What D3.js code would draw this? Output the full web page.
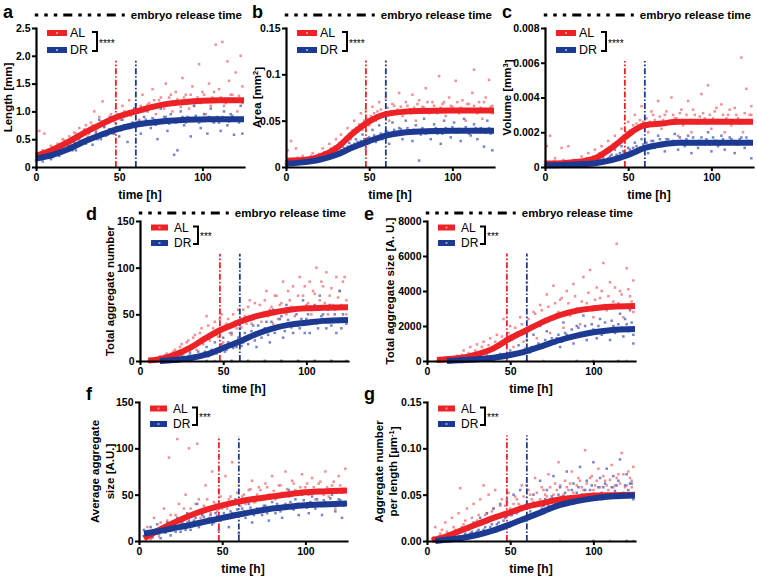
<!DOCTYPE html>
<html><head><meta charset="utf-8">
<script src="https://cdn.jsdelivr.net/npm/d3@7"></script>
<style>
body{margin:0;background:#fff}
svg{display:block}
text{font-family:Arial,"Liberation Sans",Helvetica,sans-serif}
</style>
</head><body>
<svg id="chart" width="757" height="576"></svg>
<script>
// ---------------- DATA ----------------
const timeDomain = [0, 125];
const xTicks = [0, 50, 100];
const groups = ["AL", "DR"];
const releaseTimes = [48, 60];            // AL, DR embryo release time [h]
const releaseLegend = "embryo release time";

// a: Length [mm]
const lengthTicks = [0, 0.5, 1, 1.5, 2, 2.5];
const lengthTickLabels = ["0", "0.5", "1.0", "1.5", "2.0", "2.5"];
const lengthFitAL = [[0,0.2],[10,0.31],[20,0.46],[30,0.63],[40,0.78],[48,0.89],[55,0.96],[60,1.0],[70,1.08],[80,1.14],[90,1.17],[100,1.19],[110,1.2],[125,1.2]];
const lengthFitDR = [[0,0.15],[10,0.22],[20,0.33],[30,0.47],[40,0.59],[50,0.69],[60,0.76],[70,0.8],[80,0.83],[90,0.85],[100,0.855],[110,0.86],[125,0.86]];
const lengthAL = [[1,0.22],[2,0.65],[3,0.18],[5,0.6],[6,0.28],[8,0.3],[10,0.35],[11,0.25],[13,0.42],[15,0.38],[16,0.5],[18,0.45],[20,0.55],[21,0.4],[23,0.62],[25,0.5],[26,0.7],[28,0.58],[30,0.75],[31,0.55],[33,0.8],[35,1.0],[36,0.65],[38,0.9],[40,1.18],[41,0.72],[43,0.85],[45,0.95],[46,0.6],[48,1.05],[50,0.9],[52,1.1],[54,0.75],[56,1.2],[58,1.0],[60,1.12],[62,0.85],[64,1.3],[66,1.05],[68,1.15],[70,1.4],[72,0.95],[74,1.2],[76,1.1],[78,1.5],[80,1.25],[82,1.0],[84,1.35],[86,1.15],[88,1.6],[90,1.3],[92,1.05],[94,1.45],[96,1.2],[98,1.85],[100,1.35],[102,0.95],[104,1.5],[106,1.25],[108,2.2],[110,1.4],[112,2.25],[113,1.1],[115,1.9],[116,1.55],[118,1.3],[120,1.7],[121,1.0],[123,2.0],[124,1.45],
  [0.5,0.25],[2.5,0.2],[4,0.3],[7,0.22],[9,0.38],[12,0.33],[14,0.3],[17,0.48],[19,0.38],[22,0.5],[24,0.6],[27,0.55],[29,0.68],[32,0.6],[34,0.75],[37,0.7],[39,0.82],[42,0.78],[44,0.9],[47,0.82],[49,0.95],[51,0.85],[53,1.0],[57,0.92],[59,1.05],[61,0.98],[63,1.1],[65,1.0],[67,1.12],[69,1.05],[71,1.2],[73,1.1],[75,1.25],[77,1.05],[79,1.15],[81,1.3],[83,1.12],[85,1.22],[87,1.08],[89,1.25],[91,1.15],[93,1.3],[95,1.1],[97,1.25],[99,1.15],[101,1.3],[103,1.2],[105,1.1],[107,1.35],[109,1.2],[111,1.25],[114,1.15],[117,1.3],[119,1.2],[122,1.28],[124,1.15]];
const lengthDR = [[0,0.12],[1,0.15],[3,0.2],[4,0.1],[6,0.18],[8,0.25],[9,0.14],[11,0.22],[13,0.3],[14,0.2],[16,0.35],[18,0.28],[19,0.4],[21,0.32],[23,0.45],[24,0.3],[26,0.5],[28,0.42],[29,0.6],[31,0.48],[33,0.7],[34,0.4],[36,0.62],[38,0.85],[39,0.5],[41,0.72],[43,0.58],[45,0.9],[46,0.65],[48,0.78],[50,0.55],[52,0.85],[54,0.95],[55,0.45],[57,0.72],[59,1.05],[61,0.8],[63,0.6],[65,0.9],[67,1.0],[69,0.7],[71,0.85],[73,0.5],[75,1.05],[77,0.9],[79,0.65],[81,0.95],[83,0.22],[84,0.8],[85,0.3],[87,1.0],[89,0.75],[91,0.9],[93,0.55],[95,1.1],[97,0.85],[99,0.7],[101,0.95],[103,0.6],[105,1.05],[107,0.8],[109,0.9],[111,0.65],[113,1.0],[115,0.75],[117,0.95],[119,0.58],[121,0.85],[123,1.1],[124,0.6],
  [0.5,0.17],[2,0.13],[5,0.16],[7,0.2],[10,0.18],[12,0.26],[15,0.25],[17,0.3],[20,0.36],[22,0.3],[25,0.4],[27,0.45],[30,0.42],[32,0.52],[35,0.55],[37,0.5],[40,0.62],[42,0.56],[44,0.68],[47,0.6],[49,0.72],[51,0.66],[53,0.75],[56,0.7],[58,0.8],[60,0.72],[62,0.82],[64,0.75],[66,0.85],[68,0.78],[70,0.88],[72,0.76],[74,0.84],[76,0.8],[78,0.9],[80,0.78],[82,0.86],[86,0.82],[88,0.9],[90,0.8],[92,0.88],[94,0.84],[96,0.92],[98,0.8],[100,0.88],[102,0.84],[104,0.9],[106,0.82],[108,0.88],[110,0.8],[112,0.9],[114,0.86],[116,0.82],[118,0.92],[120,0.85],[122,0.8]];

// b: Area [mm^2]
const areaTicks = [0, 0.05, 0.1, 0.15];
const areaTickLabels = ["0", "0.05", "0.1", "0.15"];
const areaFitAL = [[0,0.0068],[10,0.0075],[20,0.011],[30,0.02],[40,0.036],[48,0.047],[55,0.054],[60,0.057],[70,0.0595],[80,0.0605],[100,0.061],[125,0.061]];
const areaFitDR = [[0,0.0035],[10,0.005],[20,0.0078],[30,0.013],[40,0.021],[50,0.028],[60,0.0338],[70,0.037],[80,0.0383],[100,0.039],[125,0.039]];
const areaAL = [[0,0.006],[1,0.018],[3,0.028],[4,0.005],[6,0.02],[8,0.008],[10,0.012],[12,0.006],[14,0.01],[16,0.015],[18,0.009],[20,0.014],[22,0.02],[24,0.012],[26,0.025],[28,0.018],[30,0.03],[31,0.015],[33,0.035],[35,0.025],[37,0.042],[39,0.03],[41,0.05],[43,0.038],[45,0.058],[46,0.04],[48,0.062],[50,0.045],[52,0.065],[54,0.05],[56,0.07],[58,0.055],[60,0.075],[62,0.05],[64,0.068],[66,0.06],[68,0.08],[70,0.055],[72,0.07],[74,0.062],[76,0.078],[78,0.05],[80,0.072],[82,0.065],[84,0.085],[86,0.058],[88,0.07],[90,0.062],[92,0.098],[94,0.068],[96,0.055],[98,0.075],[100,0.065],[102,0.093],[104,0.058],[106,0.072],[108,0.05],[110,0.068],[112,0.08],[113,0.105],[114,0.06],[116,0.07],[118,0.052],[120,0.075],[122,0.094],[123,0.065],[124,0.058],
  [2,0.008],[5,0.006],[7,0.01],[9,0.005],[11,0.009],[13,0.007],[15,0.012],[17,0.01],[19,0.013],[21,0.011],[23,0.016],[25,0.014],[27,0.02],[29,0.022],[32,0.026],[34,0.028],[36,0.032],[38,0.036],[40,0.04],[42,0.042],[44,0.046],[47,0.05],[49,0.052],[51,0.055],[53,0.058],[55,0.06],[57,0.062],[59,0.058],[61,0.064],[63,0.06],[65,0.066],[67,0.062],[69,0.065],[71,0.06],[73,0.066],[75,0.058],[77,0.064],[79,0.068],[81,0.06],[83,0.064],[85,0.07],[87,0.062],[89,0.066],[91,0.058],[93,0.064],[95,0.07],[97,0.06],[99,0.066],[101,0.062],[103,0.07],[105,0.064],[107,0.06],[109,0.068],[111,0.062],[113,0.066],[115,0.058],[117,0.064],[119,0.07],[121,0.06],[124,0.066]];
const areaDR = [[0,0.003],[2,0.005],[4,0.002],[6,0.006],[8,0.004],[10,0.007],[12,0.005],[14,0.008],[16,0.006],[18,0.01],[20,0.008],[22,0.012],[24,0.01],[26,0.015],[28,0.012],[30,0.018],[32,0.014],[34,0.022],[36,0.017],[38,0.026],[40,0.02],[42,0.03],[44,0.024],[46,0.035],[48,0.02],[50,0.032],[52,0.04],[54,0.027],[56,0.045],[58,0.03],[60,0.038],[62,0.025],[64,0.048],[66,0.035],[68,0.042],[70,0.03],[72,0.05],[74,0.038],[76,0.028],[78,0.045],[80,0.007],[81,0.035],[83,0.052],[85,0.04],[87,0.03],[89,0.046],[91,0.036],[93,0.025],[95,0.05],[97,0.04],[99,0.032],[101,0.048],[103,0.038],[105,0.028],[107,0.052],[109,0.04],[111,0.034],[113,0.046],[115,0.03],[117,0.042],[119,0.022],[121,0.05],[123,0.036],[124,0.018],
  [1,0.004],[3,0.006],[5,0.003],[7,0.005],[9,0.006],[11,0.004],[13,0.007],[15,0.006],[17,0.009],[19,0.007],[21,0.01],[23,0.009],[25,0.012],[27,0.013],[29,0.015],[31,0.016],[33,0.018],[35,0.02],[37,0.022],[39,0.023],[41,0.025],[43,0.027],[45,0.028],[47,0.03],[49,0.031],[51,0.03],[53,0.034],[55,0.032],[57,0.036],[59,0.034],[61,0.038],[63,0.036],[65,0.04],[67,0.037],[69,0.041],[71,0.038],[73,0.042],[75,0.036],[77,0.04],[79,0.038],[82,0.042],[84,0.036],[86,0.04],[88,0.038],[90,0.042],[92,0.04],[94,0.036],[96,0.042],[98,0.039],[100,0.043],[102,0.037],[104,0.041],[106,0.039],[108,0.043],[110,0.036],[112,0.04],[114,0.042],[116,0.038],[118,0.041],[120,0.037],[122,0.042],[124,0.039]];

// c: Volume [mm^3]
const volumeTicks = [0, 0.002, 0.004, 0.006, 0.008];
const volumeTickLabels = ["0", "0.002", "0.004", "0.006", "0.008"];
const volumeFitAL = [[0,0.0002],[10,0.00022],[20,0.0003],[30,0.0005],[40,0.0011],[48,0.0017],[55,0.0022],[60,0.0024],[70,0.0025],[80,0.0026],[100,0.0026],[125,0.0026]];
const volumeFitDR = [[0,0.0001],[10,0.00012],[20,0.00016],[30,0.00022],[40,0.0004],[50,0.0007],[60,0.0011],[70,0.0013],[80,0.0014],[100,0.0014],[125,0.0014]];
const volumeAL = [[0,0.0003],[1,0.0012],[3,0.0018],[4,0.0002],[6,0.0005],[8,0.0001],[10,0.0011],[12,0.0003],[14,0.0012],[16,0.0002],[18,0.0004],[20,0.0003],[22,0.0006],[24,0.0004],[26,0.0008],[28,0.0005],[30,0.001],[32,0.0007],[34,0.0012],[36,0.0009],[38,0.0015],[40,0.0011],[42,0.0018],[44,0.0013],[46,0.0022],[48,0.0016],[50,0.0026],[52,0.002],[54,0.003],[56,0.0022],[58,0.0035],[60,0.0025],[62,0.002],[64,0.0032],[66,0.0027],[68,0.0038],[70,0.0022],[72,0.003],[74,0.0025],[76,0.004],[78,0.0028],[80,0.0018],[82,0.0033],[84,0.0026],[86,0.0038],[88,0.002],[90,0.003],[92,0.0025],[94,0.0042],[96,0.0028],[98,0.0047],[100,0.0022],[102,0.0032],[104,0.0027],[106,0.0036],[108,0.002],[110,0.003],[112,0.0024],[114,0.0034],[116,0.0028],[118,0.0063],[119,0.002],[121,0.0045],[123,0.003],[124,0.0035],
  [2,0.0002],[5,0.0003],[7,0.0001],[9,0.0002],[11,0.0004],[13,0.0002],[15,0.0003],[17,0.0004],[19,0.0002],[21,0.0004],[23,0.0003],[25,0.0005],[27,0.0004],[29,0.0006],[31,0.0005],[33,0.0008],[35,0.0007],[37,0.001],[39,0.0009],[41,0.0013],[43,0.0014],[45,0.0016],[47,0.0018],[49,0.002],[51,0.0021],[53,0.0024],[55,0.0025],[57,0.0027],[59,0.0026],[61,0.0028],[63,0.0026],[65,0.003],[67,0.0025],[69,0.0029],[71,0.0027],[73,0.0032],[75,0.0026],[77,0.003],[79,0.0028],[81,0.0031],[83,0.0024],[85,0.003],[87,0.0027],[89,0.0033],[91,0.0026],[93,0.0029],[95,0.0031],[97,0.0025],[99,0.003],[101,0.0028],[103,0.0034],[105,0.0026],[107,0.003],[109,0.0028],[111,0.0033],[113,0.0027],[115,0.003],[117,0.0025],[120,0.0031],[122,0.0027],[124,0.003]];
const volumeDR = [[0,0.0001],[2,0.0002],[4,0.0001],[6,0.0003],[8,0.0001],[10,0.0002],[12,0.0001],[14,0.0003],[16,0.0002],[18,0.0001],[20,0.0003],[22,0.0002],[24,0.0004],[26,0.0002],[28,0.0005],[30,0.0003],[32,0.0006],[34,0.0004],[36,0.0008],[38,0.0005],[40,0.0007],[42,0.001],[44,0.0006],[46,0.0012],[48,0.0008],[50,0.0011],[52,0.0007],[54,0.0014],[56,0.001],[58,0.0016],[60,0.0012],[62,0.0008],[64,0.0015],[66,0.0011],[68,0.0018],[70,0.0012],[72,0.0009],[74,0.0016],[76,0.0013],[78,0.0019],[80,0.001],[82,0.0015],[84,0.0012],[86,0.0018],[88,0.0008],[90,0.0014],[92,0.0011],[94,0.0017],[96,0.0013],[98,0.002],[100,0.0009],[102,0.0015],[104,0.0012],[106,0.0018],[108,0.001],[110,0.0014],[112,0.0016],[114,0.0008],[116,0.0013],[118,0.0017],[120,0.0011],[122,0.0015],[124,0.0005],
  [1,0.0002],[3,0.0001],[5,0.0002],[7,0.0001],[9,0.0002],[11,0.0003],[13,0.0002],[15,0.0001],[17,0.0002],[19,0.0003],[21,0.0002],[23,0.0001],[25,0.0003],[27,0.0002],[29,0.0004],[31,0.0003],[33,0.0004],[35,0.0005],[37,0.0004],[39,0.0006],[41,0.0005],[43,0.0007],[45,0.0008],[47,0.0009],[49,0.0008],[51,0.001],[53,0.0011],[55,0.0012],[57,0.0011],[59,0.0013],[61,0.0014],[63,0.0012],[65,0.0015],[67,0.0013],[69,0.0016],[71,0.0014],[73,0.0016],[75,0.0013],[77,0.0015],[79,0.0014],[81,0.0017],[83,0.0013],[85,0.0016],[87,0.0014],[89,0.0017],[91,0.0013],[93,0.0015],[95,0.0014],[97,0.0016],[99,0.0013],[101,0.0017],[103,0.0015],[105,0.0013],[107,0.0016],[109,0.0014],[111,0.0017],[113,0.0015],[115,0.0013],[117,0.0016],[119,0.0014],[121,0.0017],[123,0.0014]];

// d: Total aggregate number
const numberTicks = [0, 50, 100, 150];
const numberTickLabels = ["0", "50", "100", "150"];
const numberFitAL = [[5,0.5],[10,1.5],[20,6],[30,14],[40,25],[48,33],[55,38],[60,42],[70,48],[80,52],[90,55],[100,56.5],[110,57],[125,57.5]];
const numberFitDR = [[12,0],[20,1],[30,3],[40,7],[50,14],[60,21],[70,29],[80,35],[90,39],[100,41],[110,43],[125,44]];
const numberAL = [[5,0],[8,2],[10,0],[12,5],[14,1],[16,8],[18,3],[20,10],[22,4],[24,15],[26,7],[28,20],[30,10],[32,25],[34,12],[36,30],[38,18],[40,48],[42,22],[44,35],[46,28],[48,45],[50,20],[52,40],[54,30],[56,50],[58,35],[60,25],[62,55],[64,40],[66,65],[68,45],[70,30],[72,60],[74,50],[76,75],[78,55],[80,40],[82,70],[84,60],[86,85],[88,50],[90,65],[92,80],[94,55],[96,90],[98,70],[100,60],[102,85],[104,75],[106,100],[108,65],[110,80],[112,95],[114,70],[116,60],[118,90],[120,75],[122,85],[124,65],[30,0],[55,0],[75,0],[95,0],[115,0],
  [7,0],[9,3],[11,1],[13,4],[15,6],[17,2],[19,8],[21,12],[23,6],[25,18],[27,10],[29,22],[31,16],[33,28],[35,20],[37,35],[39,24],[41,38],[43,30],[45,42],[47,26],[49,50],[51,38],[53,45],[55,28],[57,42],[59,55],[61,36],[63,48],[65,58],[67,40],[69,62],[71,50],[73,42],[75,65],[77,48],[79,58],[81,70],[83,45],[85,62],[87,52],[89,75],[91,58],[93,48],[95,70],[97,55],[99,80],[101,62],[103,50],[105,72],[107,58],[109,85],[111,62],[113,50],[115,78],[117,55],[119,68],[121,60],[123,90],[124,50],[20,0],[45,0],[65,0],[85,0],[105,0]];
const numberDR = [[12,0],[15,1],[18,0],[20,3],[22,1],[25,5],[28,2],[30,8],[32,3],[35,10],[38,5],[40,15],[42,7],[45,20],[48,10],[50,25],[52,12],[55,30],[58,15],[60,35],[62,20],[64,45],[66,25],[68,38],[70,15],[72,50],[74,30],[76,42],[78,20],[80,55],[82,35],[84,45],[86,25],[88,60],[90,40],[92,30],[94,50],[96,35],[98,65],[100,45],[102,30],[104,55],[106,40],[108,70],[110,50],[112,35],[114,60],[116,45],[118,30],[120,75],[122,50],[124,40],[40,0],[65,0],[85,0],[105,0],[124,0],
  [14,0],[16,2],[19,1],[21,0],[23,4],[26,2],[29,5],[31,1],[33,6],[36,4],[39,10],[41,5],[43,12],[46,8],[49,18],[51,10],[53,20],[56,14],[59,25],[61,16],[63,30],[65,18],[67,32],[69,22],[71,38],[73,25],[75,35],[77,28],[79,42],[81,30],[83,38],[85,48],[87,32],[89,44],[91,36],[93,55],[95,38],[97,45],[99,30],[101,50],[103,40],[105,60],[107,35],[109,48],[111,42],[113,55],[115,38],[117,50],[119,45],[121,35],[123,58],[55,0],[75,0],[95,0],[115,0]];

// e: Total aggregate size [A. U.]
const sizeTicks = [0, 2000, 4000, 6000, 8000];
const sizeTickLabels = ["0", "2000", "4000", "6000", "8000"];
const sizeFitAL = [[6,60],[10,90],[20,170],[30,380],[40,720],[50,1300],[60,1770],[70,2250],[80,2630],[90,2880],[100,3010],[110,3100],[125,3140]];
const sizeFitDR = [[12,0],[20,40],[30,95],[40,190],[50,340],[60,570],[70,880],[80,1200],[90,1450],[100,1640],[110,1760],[125,1830]];
const sizeAL = [[6,0],[10,50],[14,150],[18,300],[20,100],[22,600],[24,200],[26,800],[28,350],[30,950],[32,500],[34,1100],[36,400],[38,1300],[40,700],[42,1500],[44,900],[46,2400],[48,1200],[50,2000],[52,800],[54,1600],[56,2500],[58,1100],[60,4500],[62,1800],[64,2800],[66,1300],[68,3200],[70,2200],[72,3800],[74,1600],[76,4300],[78,2700],[80,3500],[82,1900],[84,4000],[86,2600],[88,4400],[90,3000],[92,2100],[94,4800],[96,3300],[98,5200],[100,2500],[102,4200],[104,3600],[106,5600],[108,2900],[110,4500],[112,3400],[114,6700],[116,4000],[118,2500],[120,5300],[122,3700],[124,4600],[40,0],[70,0],[100,0],[120,0],
  [8,30],[12,100],[15,60],[17,200],[19,150],[21,350],[23,150],[25,450],[27,250],[29,600],[31,350],[33,800],[35,500],[37,900],[39,600],[41,1100],[43,800],[45,1400],[47,1000],[49,1600],[51,1200],[53,1900],[55,1500],[57,2100],[59,1600],[61,2400],[63,1900],[65,2700],[67,2100],[69,2900],[71,2400],[73,3100],[75,2500],[77,3300],[79,2800],[81,3600],[83,2700],[85,3300],[87,2900],[89,3700],[91,2800],[93,3400],[95,3000],[97,3900],[99,2900],[101,3500],[103,3100],[105,4000],[107,3200],[109,3700],[111,3000],[113,4200],[115,3300],[117,3800],[119,3100],[121,4100],[123,3400],[124,2800]];
const sizeDR = [[12,0],[16,30],[20,80],[24,50],[28,150],[32,100],[36,250],[40,150],[44,400],[48,250],[50,600],[52,300],[55,900],[58,400],[60,1200],[62,500],[64,1500],[66,700],[68,2000],[70,900],[72,1700],[74,1100],[76,2400],[78,1300],[80,800],[82,2200],[84,1500],[86,2800],[88,1000],[90,2000],[92,1600],[94,2600],[96,1200],[98,3000],[100,1800],[102,1300],[104,2400],[106,1600],[108,3100],[110,1200],[112,2000],[114,1700],[116,2700],[118,1400],[120,2100],[122,2900],[124,1000],[60,0],[90,0],[115,0],
  [14,20],[18,50],[22,30],[26,100],[30,60],[34,150],[38,100],[42,250],[46,200],[49,400],[51,300],[53,500],[56,450],[59,700],[61,550],[63,800],[65,650],[67,1000],[69,800],[71,1200],[73,900],[75,1300],[77,1000],[79,1500],[81,1100],[83,1600],[85,1300],[87,1800],[89,1400],[91,1900],[93,1500],[95,2000],[97,1600],[99,2100],[101,1700],[103,2000],[105,1500],[107,2200],[109,1800],[111,2300],[113,1600],[115,2100],[117,1900],[119,2400],[121,1700],[123,2200],[124,1500]];

// f: Average aggregate size [A.U.]
const avgTicks = [0, 50, 100, 150];
const avgTickLabels = ["0", "50", "100", "150"];
const avgFitAL = [[3,3],[10,10],[20,19],[30,27],[40,33.5],[50,38.5],[60,42.5],[70,45.5],[80,48],[90,50.5],[100,52.5],[110,53.5],[125,54.5]];
const avgFitDR = [[3,8],[10,10],[20,13.5],[30,17],[40,21],[50,25],[60,28.6],[70,32],[80,35],[90,37],[100,38.6],[110,39.5],[125,40.5]];
const avgAL = [[3,5],[5,15],[7,2],[9,25],[11,8],[13,20],[15,35],[16,10],[18,90],[19,28],[21,15],[23,110],[24,40],[26,22],[28,50],[30,100],[31,35],[33,18],[35,105],[36,45],[38,30],[40,60],[42,25],[44,75],[46,40],[48,55],[50,35],[52,70],[54,45],[56,85],[58,30],[60,60],[62,48],[64,40],[66,55],[68,65],[70,42],[72,58],[74,35],[76,62],[78,50],[80,70],[82,45],[84,60],[86,52],[88,75],[90,48],[92,65],[94,55],[96,40],[98,72],[100,58],[102,50],[104,68],[106,45],[108,62],[110,55],[112,75],[114,48],[116,60],[118,35],[120,70],[122,52],[124,78],
  [4,2],[6,8],[8,4],[10,12],[12,5],[14,15],[17,22],[20,12],[22,28],[25,18],[27,35],[29,20],[32,30],[34,40],[37,25],[39,38],[41,45],[43,30],[45,42],[47,32],[49,48],[51,40],[53,35],[55,48],[57,40],[59,52],[61,38],[63,50],[65,44],[67,56],[69,42],[71,50],[73,55],[75,45],[77,58],[79,46],[81,54],[83,50],[85,60],[87,48],[89,56],[91,52],[93,62],[95,50],[97,58],[99,54],[101,62],[103,52],[105,58],[107,55],[109,64],[111,50],[113,58],[115,56],[117,64],[119,52],[121,60],[123,56]];
const avgDR = [[3,12],[5,5],[7,15],[9,8],[11,18],[13,3],[15,12],[17,20],[19,6],[21,15],[23,25],[25,10],[27,18],[29,30],[31,12],[33,22],[35,40],[36,15],[38,28],[40,20],[42,35],[44,18],[46,30],[48,12],[50,25],[52,38],[54,15],[56,30],[58,45],[60,8],[62,35],[64,25],[66,40],[68,20],[70,32],[72,45],[74,28],[76,38],[78,22],[80,42],[82,30],[84,48],[86,25],[88,40],[90,55],[92,35],[94,45],[96,28],[98,50],[100,38],[102,30],[104,48],[106,35],[108,55],[110,28],[112,42],[114,38],[116,50],[118,32],[120,45],[122,25],[124,40],
  [4,8],[6,10],[8,4],[10,12],[12,8],[14,15],[16,9],[18,12],[20,18],[22,10],[24,15],[26,20],[28,12],[30,22],[32,16],[34,25],[37,18],[39,26],[41,22],[43,28],[45,20],[47,27],[49,22],[51,30],[53,25],[55,32],[57,26],[59,34],[61,28],[63,32],[65,30],[67,36],[69,28],[71,35],[73,32],[75,38],[77,30],[79,36],[81,34],[83,40],[85,32],[87,38],[89,36],[91,42],[93,34],[95,40],[97,38],[99,44],[101,36],[103,42],[105,40],[107,45],[109,38],[111,44],[113,40],[115,46],[117,38],[119,42],[121,44],[123,38]];

// g: Aggregate number per length [µm^-1]
const perLenTicks = [0, 0.05, 0.1, 0.15];
const perLenTickLabels = ["0.00", "0.05", "0.10", "0.15"];
const perLenFitAL = [[3,0.001],[10,0.004],[20,0.011],[30,0.018],[40,0.025],[50,0.031],[60,0.037],[70,0.041],[80,0.045],[90,0.047],[100,0.049],[110,0.0495],[125,0.05]];
const perLenFitDR = [[5,0],[10,0.001],[20,0.003],[30,0.0065],[40,0.0115],[50,0.018],[60,0.025],[70,0.032],[80,0.039],[90,0.043],[100,0.046],[110,0.048],[125,0.049]];
const perLenAL = [[3,0.002],[5,0.015],[7,0.005],[9,0.012],[11,0.02],[13,0.008],[15,0.025],[17,0.012],[19,0.03],[20,0.057],[22,0.018],[24,0.035],[26,0.015],[28,0.04],[30,0.022],[32,0.045],[34,0.06],[35,0.028],[37,0.05],[39,0.032],[41,0.055],[43,0.025],[45,0.045],[47,0.038],[49,0.052],[51,0.03],[53,0.048],[55,0.04],[57,0.06],[59,0.035],[61,0.055],[63,0.045],[65,0.068],[67,0.038],[69,0.058],[71,0.05],[73,0.072],[75,0.042],[77,0.062],[79,0.085],[81,0.048],[83,0.065],[85,0.055],[87,0.075],[89,0.045],[91,0.068],[93,0.058],[95,0.098],[97,0.05],[99,0.07],[101,0.06],[103,0.078],[105,0.045],[107,0.065],[109,0.055],[111,0.082],[113,0.06],[115,0.072],[117,0.095],[119,0.058],[121,0.075],[123,0.065],[124,0.08],[50,0],[80,0],[110,0],[124,0],
  [4,0.004],[6,0.002],[8,0.008],[10,0.003],[12,0.01],[14,0.006],[16,0.015],[18,0.01],[21,0.015],[23,0.022],[25,0.012],[27,0.025],[29,0.018],[31,0.028],[33,0.02],[36,0.03],[38,0.022],[40,0.035],[42,0.028],[44,0.038],[46,0.03],[48,0.042],[50,0.035],[52,0.04],[54,0.045],[56,0.038],[58,0.048],[60,0.04],[62,0.05],[64,0.042],[66,0.052],[68,0.045],[70,0.055],[72,0.048],[74,0.058],[76,0.05],[78,0.055],[80,0.06],[82,0.05],[84,0.058],[86,0.062],[88,0.052],[90,0.06],[92,0.065],[94,0.055],[96,0.062],[98,0.068],[100,0.055],[102,0.065],[104,0.058],[106,0.07],[108,0.06],[110,0.066],[112,0.058],[114,0.068],[116,0.062],[118,0.072],[120,0.06],[122,0.068],[123,0.058]];
const perLenDR = [[10,0],[12,0.005],[14,0.002],[16,0.008],[18,0.003],[20,0.012],[22,0.005],[24,0.015],[26,0.008],[28,0.02],[30,0.01],[32,0.025],[34,0.012],[36,0.03],[38,0.015],[40,0.035],[42,0.018],[44,0.04],[46,0.022],[48,0.045],[50,0.028],[52,0.05],[54,0.03],[56,0.055],[58,0.035],[60,0.06],[62,0.032],[64,0.05],[66,0.04],[68,0.065],[70,0.038],[72,0.055],[74,0.045],[76,0.07],[78,0.04],[80,0.058],[82,0.048],[84,0.075],[86,0.042],[88,0.062],[90,0.052],[92,0.08],[94,0.045],[96,0.065],[98,0.055],[100,0.085],[102,0.048],[104,0.068],[106,0.058],[108,0.078],[110,0.05],[112,0.07],[114,0.06],[116,0.088],[118,0.052],[120,0.072],[122,0.062],[124,0.045],[100,0],[120,0],
  [11,0.002],[13,0.001],[15,0.004],[17,0.002],[19,0.005],[21,0.003],[23,0.008],[25,0.004],[27,0.01],[29,0.006],[31,0.012],[33,0.008],[35,0.015],[37,0.01],[39,0.018],[41,0.012],[43,0.02],[45,0.015],[47,0.025],[49,0.018],[51,0.028],[53,0.02],[55,0.032],[57,0.025],[59,0.035],[61,0.028],[63,0.04],[65,0.03],[67,0.042],[69,0.035],[71,0.045],[73,0.038],[75,0.048],[77,0.04],[79,0.05],[81,0.042],[83,0.052],[85,0.045],[87,0.055],[89,0.048],[91,0.058],[93,0.05],[95,0.055],[97,0.048],[99,0.06],[101,0.05],[103,0.058],[105,0.052],[107,0.062],[109,0.05],[111,0.058],[113,0.054],[115,0.065],[117,0.05],[119,0.06],[121,0.055],[123,0.062]];

// top of vertical release-time lines, in data units of each panel
const releaseTops = [1.91, 0.115, 0.0061, 115, 6150, 113, 0.114];
const significance = ["****", "****", "****", "***", "***", "***", "***"];

// ---------------- DRAWING ----------------
const COL = {AL: "#ec2227", DR: "#1d3a93", ALpt: "#f07b80", DRpt: "#5d6fc2"};
const svg = d3.select("#chart");

const panels = [
  {id:"a", ticks:lengthTicks, labels:lengthTickLabels, AL:lengthAL, DR:lengthDR, fitAL:lengthFitAL, fitDR:lengthFitDR,
   ylab:[["Length [mm]"]], L:{x:36, y:28, h:139, lx:3, ly:18, ylb:12, row:0}},
  {id:"b", ticks:areaTicks, labels:areaTickLabels, AL:areaAL, DR:areaDR, fitAL:areaFitAL, fitDR:areaFitDR,
   ylab:[["Area [mm", "2", "]"]], L:{x:286, y:28, h:139, lx:252, ly:18, ylb:261, row:0}},
  {id:"c", ticks:volumeTicks, labels:volumeTickLabels, AL:volumeAL, DR:volumeDR, fitAL:volumeFitAL, fitDR:volumeFitDR,
   ylab:[["Volume [mm", "3", "]"]], L:{x:545, y:28, h:139, lx:502, ly:18, ylb:511, row:0}},
  {id:"d", ticks:numberTicks, labels:numberTickLabels, AL:numberAL, DR:numberDR, fitAL:numberFitAL, fitDR:numberFitDR,
   ylab:[["Total aggregate number"]], L:{x:140, y:221, h:140, lx:86, ly:220, ylb:114, row:1}},
  {id:"e", ticks:sizeTicks, labels:sizeTickLabels, AL:sizeAL, DR:sizeDR, fitAL:sizeFitAL, fitDR:sizeFitDR,
   ylab:[["Total aggregate size [A. U.]"]], L:{x:427, y:221, h:140, lx:364, ly:220, ylb:394, row:1}},
  {id:"f", ticks:avgTicks, labels:avgTickLabels, AL:avgAL, DR:avgDR, fitAL:avgFitAL, fitDR:avgFitDR,
   ylab:[["Average aggregate"], ["size [A.U.]"]], L:{x:139, y:402, h:139, lx:86, ly:400, ylb:[99,114], row:2}},
  {id:"g", ticks:perLenTicks, labels:perLenTickLabels, AL:perLenAL, DR:perLenDR, fitAL:perLenFitAL, fitDR:perLenFitDR,
   ylab:[["Aggregate number"], ["per length [µm", "-1", "]"]], L:{x:427, y:402, h:139, lx:364, ly:400, ylb:[383,397], row:2}}
];

panels.forEach((p, pi) => {
  const L = p.L;
  const x = d3.scaleLinear().domain(timeDomain).range([L.x, L.x + 208]);
  const yMax = p.ticks[p.ticks.length - 1];
  const y = d3.scaleLinear().domain([0, yMax]).range([L.y + L.h, L.y]);
  const g = svg.append("g");

  // scatter
  groups.forEach(k => {
    g.append("g").selectAll("rect").data(p[k]).join("rect")
      .attr("x", d => x(d[0]) - 1.25).attr("y", d => y(d[1]) - 1.25)
      .attr("width", 2.5).attr("height", 2.5)
      .attr("fill", COL[k + "pt"]).attr("opacity", 0.85);
  });

  // release-time lines
  releaseTimes.forEach((t, i) => {
    g.append("line")
      .attr("x1", x(t)).attr("x2", x(t))
      .attr("y1", y(0)).attr("y2", y(releaseTops[pi]))
      .attr("stroke", COL[groups[i]]).attr("stroke-width", 1.8)
      .attr("stroke-dasharray", "6,2,1.6,2");
  });

  // fit curves
  const line = d3.line().x(d => x(d[0])).y(d => y(d[1])).curve(d3.curveMonotoneX);
  groups.forEach(k => {
    g.append("path").datum(p["fit" + k]).attr("d", line)
      .attr("fill", "none").attr("stroke", COL[k]).attr("stroke-width", 6)
      .attr("stroke-linecap", "butt");
  });

  // axes
  const xAxis = d3.axisBottom(x).tickValues(xTicks).tickSize(4).tickSizeOuter(0).tickPadding(3);
  const yAxis = d3.axisLeft(y).tickValues(p.ticks).tickFormat((d, i) => p.labels[i])
    .tickSize(4).tickSizeOuter(0).tickPadding(1.5);
  const gx = g.append("g").attr("transform", `translate(0,${y(0)})`).call(xAxis);
  const gy = g.append("g").attr("transform", `translate(${L.x},0)`).call(yAxis);
  [gx, gy].forEach(a => {
    a.select(".domain").attr("stroke", "#000").attr("stroke-width", 2.2).attr("stroke-linecap", "square");
    a.selectAll(".tick line").attr("stroke", "#000").attr("stroke-width", 2);
    a.selectAll(".tick text").attr("fill", "#000")
      .style("font-size", "10.5px").style("font-weight", "bold")
      .style("font-family", "Arial, 'Liberation Sans', sans-serif");
  });

  // x label
  g.append("text").attr("x", L.x + 104).attr("y", y(0) + 31.5)
    .attr("text-anchor", "middle").style("font-size", "12px").style("font-weight", "bold")
    .text("time [h]");

  // panel letter
  g.append("text").attr("x", L.lx).attr("y", L.ly)
    .style("font-size", "18px").style("font-weight", "bold").text(p.id);

  // y label(s)
  const ymid = L.y + L.h / 2;
  p.ylab.forEach((parts, li) => {
    const bx = Array.isArray(L.ylb) ? L.ylb[li] : L.ylb;
    const t = g.append("text")
      .attr("transform", `translate(${bx},${ymid}) rotate(-90)`)
      .attr("text-anchor", "middle").style("font-size", "11.5px").style("font-weight", "bold");
    t.append("tspan").text(parts[0]);
    if (parts.length > 1) {
      t.append("tspan").attr("dy", "-0.45em").style("font-size", "7.5px").text(parts[1]);
      t.append("tspan").attr("dy", "0.45em").text(parts[2]);
    }
  });

  // AL / DR legend with bracket
  const top = L.row === 0;
  const yAL = L.y + (top ? 5 : 6.5);
  const yDR = yAL + (top ? 17 : 15.5);
  const sx0 = L.x + 11, sx1 = L.x + (top ? 31 : 28);
  [yAL, yDR].forEach((yy, i) => {
    const k = groups[i];
    g.append("line").attr("x1", sx0).attr("x2", sx1).attr("y1", yy).attr("y2", yy)
      .attr("stroke", COL[k]).attr("stroke-width", 6);
    g.append("rect").attr("x", (sx0 + sx1) / 2 - 1).attr("y", yy - 1).attr("width", 2).attr("height", 2)
      .attr("fill", "#fff").attr("opacity", 0.5);
    g.append("text").attr("x", L.x + 34).attr("y", yy + 4.3)
      .style("font-size", top ? "12.5px" : "12px").text(k);
  });
  const bx = L.x + (top ? 61 : 58);
  g.append("path")
    .attr("d", `M${bx - 5},${yAL - 1}H${bx}V${yDR + 1}H${bx - 5}`)
    .attr("fill", "none").attr("stroke", "#000").attr("stroke-width", 2);
  g.append("text").attr("x", bx + 2).attr("y", (yAL + yDR) / 2 + 5)
    .style("font-size", "10px").text(significance[pi]);

  // embryo release legend (rows 0 and 1)
  if (L.row < 2) {
    const ly = top ? 15 : 213;
    const tx = g.append("text").attr("x", L.x + 206).attr("y", ly + 4)
      .attr("text-anchor", "end").style("font-size", "11.5px").style("font-weight", "bold")
      .text(releaseLegend);
    const tw = tx.node().getComputedTextLength();
    const xEnd = L.x + 206 - tw - 6;
    g.append("line").attr("x1", xEnd - 90).attr("x2", xEnd).attr("y1", ly).attr("y2", ly)
      .attr("stroke", "#000").attr("stroke-width", 3.2)
      .attr("stroke-dasharray", "3.5,6,3.5,6,3.5,6,9,6");
  }
});
</script>
</body></html>
